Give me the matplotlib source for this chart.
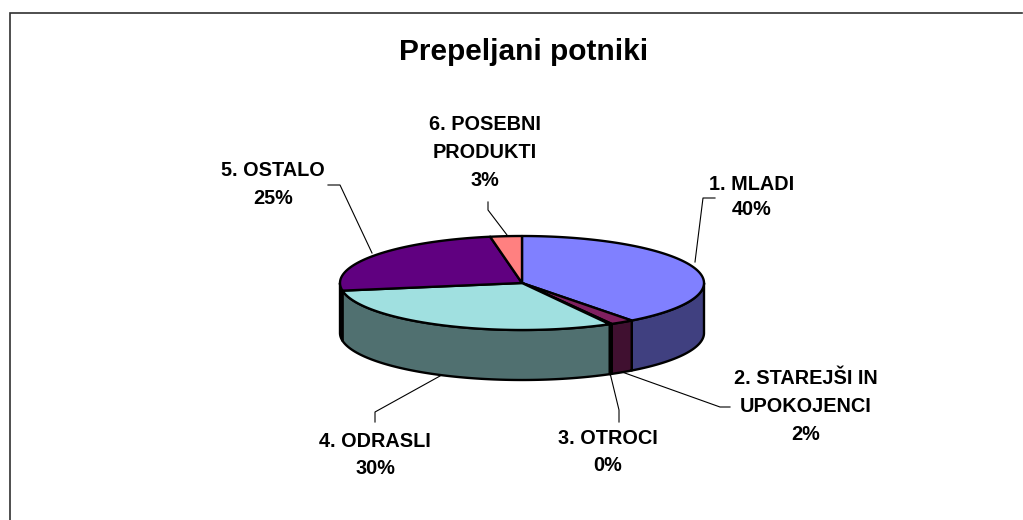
import numpy as np
import matplotlib
matplotlib.use("Agg")
import matplotlib.pyplot as plt
from matplotlib.patches import Polygon

# ---- data ----
categories = ["1. MLADI", "2. STAREJŠI IN\nUPOKOJENCI", "3. OTROCI",
              "4. ODRASLI", "5. OSTALO", "6. POSEBNI\nPRODUKTI"]
values = [39.7, 2.1, 0.2, 30.4, 24.8, 2.8]
title = "Prepeljani potniki"

# ---- style ----
top_colors = ["#8080FF", "#802060", "#FFFFC0", "#A0E0E0", "#600080", "#FF8080"]
side_colors = ["#404080", "#401030", "#808060", "#507070", "#300040", "#804040"]

# geometry (pixel space)
cx, cy = 522, 283
A, B = 182, 47
H = 50

label_pos = [(752, 197), (806, 407), (608, 452), (375, 455), (273, 185), (485, 152)]
linesp = [1.45, 1.6, 1.55, 1.5, 1.6, 1.6]
leaders = [
    [(695, 262), (703, 198), (715, 198)],
    [(622, 372), (720, 407), (730, 407)],
    [(610, 373), (619, 410), (619, 422)],
    [(440, 376), (375, 412), (375, 422)],
    [(372, 253), (340, 185), (328, 185)],
    [(507, 235), (488, 210), (488, 202)],
]

plt.rcParams['font.family'] = ['Liberation Sans', 'DejaVu Sans']

fig = plt.figure(figsize=(10.23, 5.20), dpi=100)
ax = fig.add_axes([0, 0, 1, 1])
ax.set_xlim(0, 1023)
ax.set_ylim(520, 0)
ax.axis('off')

# frame
ax.plot([9.7, 9.7, 1022], [520, 12.8, 12.8], color="#303030", lw=1.2,
        solid_joinstyle='miter', zorder=1)


def ell(t, dy=0.0):
    return cx + A * np.sin(t), cy - B * np.cos(t) + dy


total = sum(values)
fr = np.cumsum([0] + values) / total * 2 * np.pi
lw = 1.7

# side walls (front half: t in [pi/2, 3pi/2])
for i in range(len(values)):
    t0 = max(fr[i], np.pi / 2)
    t1 = min(fr[i + 1], 3 * np.pi / 2)
    if t1 <= t0:
        continue
    t = np.linspace(t0, t1, 120)
    xt, yt = ell(t)
    xb, yb = ell(t[::-1], H)
    pts = np.column_stack([np.concatenate([xt, xb]), np.concatenate([yt, yb])])
    ax.add_patch(Polygon(pts, closed=True, facecolor=side_colors[i],
                         edgecolor="black", lw=lw, joinstyle='round', zorder=2))

# top face
for i in range(len(values)):
    t = np.linspace(fr[i], fr[i + 1], max(3, int(400 * values[i] / total)))
    x, y = ell(t)
    pts = np.column_stack([np.concatenate([[cx], x]), np.concatenate([[cy], y])])
    ax.add_patch(Polygon(pts, closed=True, facecolor=top_colors[i],
                         edgecolor="black", lw=lw, joinstyle='round', zorder=3))

# labels and leader lines
for i, (cat, v) in enumerate(zip(categories, values)):
    lx, ly = label_pos[i]
    ax.text(lx, ly, f"{cat}\n{round(v)}%", ha="center", va="center",
            fontsize=14.3, fontweight="bold", linespacing=linesp[i], zorder=5)
    xs, ys = zip(*leaders[i])
    ax.plot(xs, ys, color="black", lw=0.8, zorder=4)

ax.text(524, 52, title, ha="center", va="center", fontsize=21.5,
        fontweight="bold", zorder=5)

fig.savefig("out.png", dpi=100)
